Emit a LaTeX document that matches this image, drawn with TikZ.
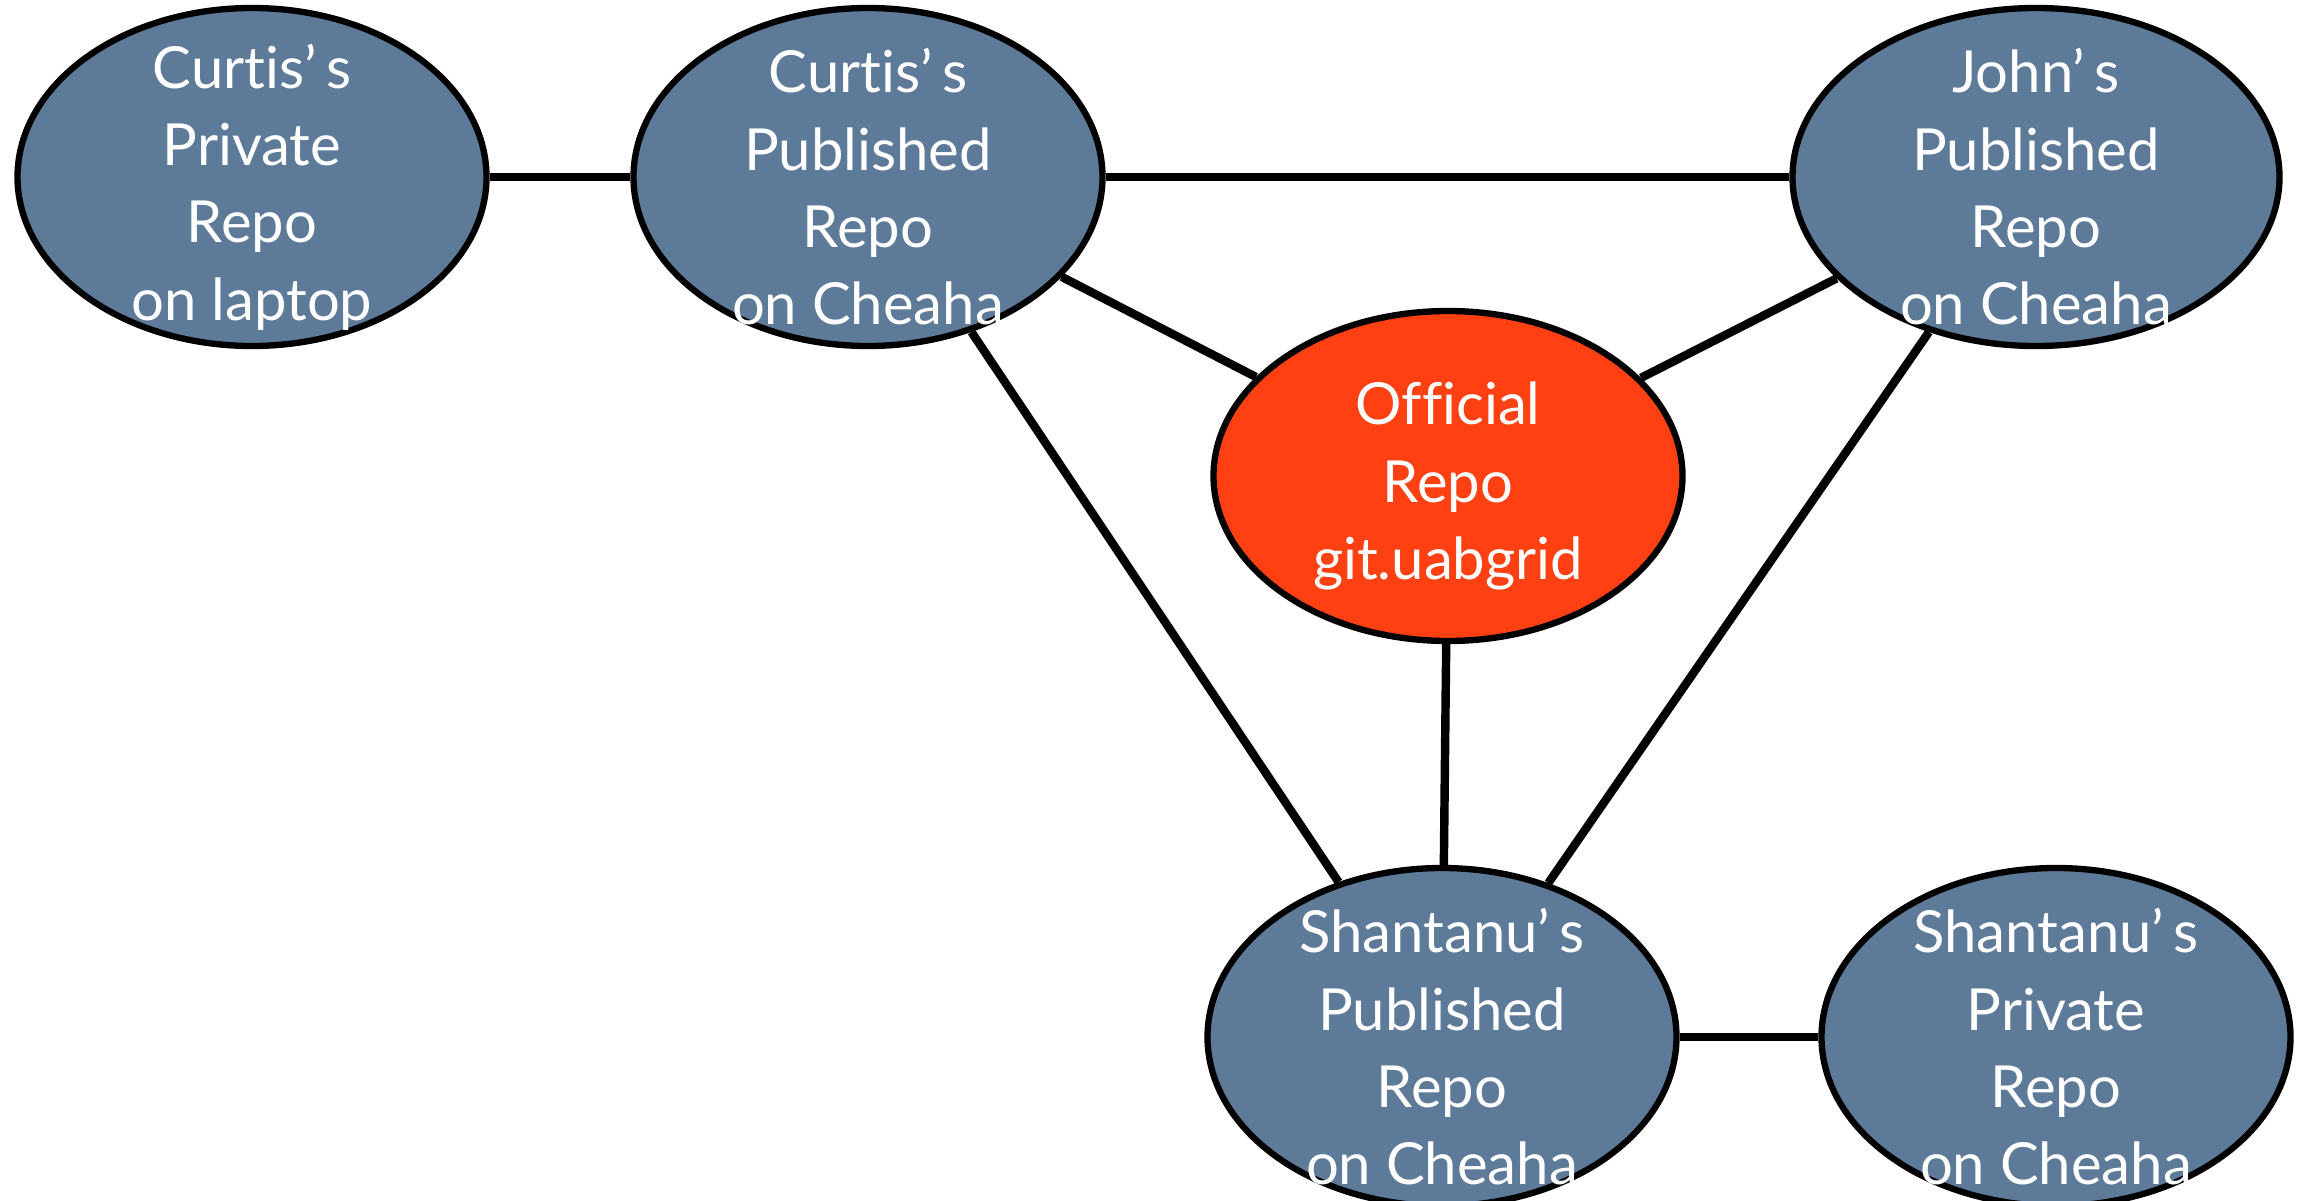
\documentclass[tikz,border=0pt]{standalone}
\usepackage{fontspec}
\setmainfont{Lato}[Ligatures=NoCommon]
\usetikzlibrary{shapes.geometric}

\definecolor{repoblue}{RGB}{94,122,153}
\definecolor{officialred}{RGB}{255,64,18}

\tikzset{
  repo/.style={ellipse,draw,fill=repoblue,line width=1.8pt,minimum width=4.69cm,minimum height=3.38cm,inner sep=0pt},
  every label/.style={align=center,text=white,font=\fontsize{16.5}{22}\selectfont,inner sep=0pt,yshift=-0.1cm},
  link/.style={line width=2.4pt}
}

\begin{document}
\begin{tikzpicture}
        \useasboundingbox (0,0) rectangle (23,-12.01);

        \node [repo,label={center:Curtis’\,s\\Private\\Repo\\on laptop}] at (2.52,-1.77) (cpriv){};
        \node [repo,label={center:Curtis’\,s\\Published\\Repo\\on Cheaha}] at (8.68,-1.77) (cpub){};
        \node [repo,minimum width=4.87cm,label={center:John’\,s\\Published\\Repo\\on Cheaha}] at (20.36,-1.77) (jpub){};
        \node [repo,fill=officialred,minimum height=3.3cm,label={center:Official\\Repo\\git.uabgrid}] at (14.48,-4.76) (official){};
        \node [repo,label={center:Shantanu’\,s\\Published\\Repo\\on Cheaha}] at (14.42,-10.37) (spub){};
        \node [repo,label={center:Shantanu’\,s\\Private\\Repo\\on Cheaha}] at (20.56,-10.37) (spriv){};

        \draw [link] (cpriv) -- (cpub);
        \draw [link] (cpub) -- (jpub);
        \draw [link] (cpub) -- (official);
        \draw [link] (jpub) -- (official);
        \draw [link] (cpub) -- (spub);
        \draw [link] (jpub) -- (spub);
        \draw [link] (official) -- (spub);
        \draw [link] (spub) -- (spriv);
      \end{tikzpicture}
\end{document}
